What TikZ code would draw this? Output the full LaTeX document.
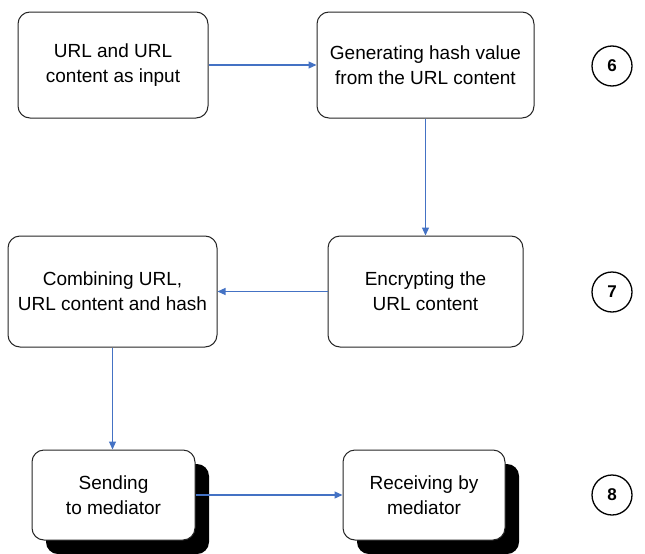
\documentclass[tikz,border=0pt]{standalone}
\usepackage{fontspec}
\setmainfont{Liberation Sans}
\usetikzlibrary{arrows.meta,shadows}
\definecolor{arrblue}{RGB}{68,114,196}
\begin{document}
\begin{tikzpicture}[x=1pt,y=-1pt,
  box/.style={draw=black!85, line width=1pt, rounded corners=12pt, fill=white, align=center,
    font=\fontsize{19}{25}\selectfont, inner sep=0pt},
  shbox/.style={box, general shadow={fill=black, shadow xshift=14pt, shadow yshift=-14pt}},
  arr/.style={draw=arrblue, line width=1.2pt, -{Triangle[length=8pt,width=7pt]}},
  num/.style={circle, draw=black, line width=1.3pt, minimum size=40pt, inner sep=0pt,
    font=\bfseries\fontsize{17}{17}\selectfont}
]
\useasboundingbox (0,0) rectangle (645,554);
\node[box, minimum width=190pt, minimum height=106pt] (b1) at (113,65) {URL and URL\\content as input};
\node[box, minimum width=217pt, minimum height=106pt] (b2) at (425.5,65) {Generating hash value\\from the URL content};
\node[box, minimum width=195pt, minimum height=111pt] (b3) at (425.5,291.5) {Encrypting the\\URL content};
\node[box, minimum width=209pt, minimum height=111pt] (b4) at (112.5,291.5) {Combining URL,\\URL content and hash};
\node[shbox, minimum width=163pt, minimum height=90pt] (b5) at (113.5,495) {Sending\\to mediator};
\node[shbox, minimum width=162pt, minimum height=90pt] (b6) at (424,495) {Receiving by\\mediator};
\node[num] (n6) at (612,66) {6};
\node[num] (n7) at (612,292) {7};
\node[num] (n8) at (612,495) {8};
\draw[arr] (b1.east) -- (b2.west);
\draw[arr] (b2.south) -- (b3.north);
\draw[arr] (b3.west) -- (b4.east);
\draw[arr] (b4.south) -- (b4.south |- b5.north);
\draw[arr] (b5.east) -- (b6.west);
\end{tikzpicture}
\end{document}
